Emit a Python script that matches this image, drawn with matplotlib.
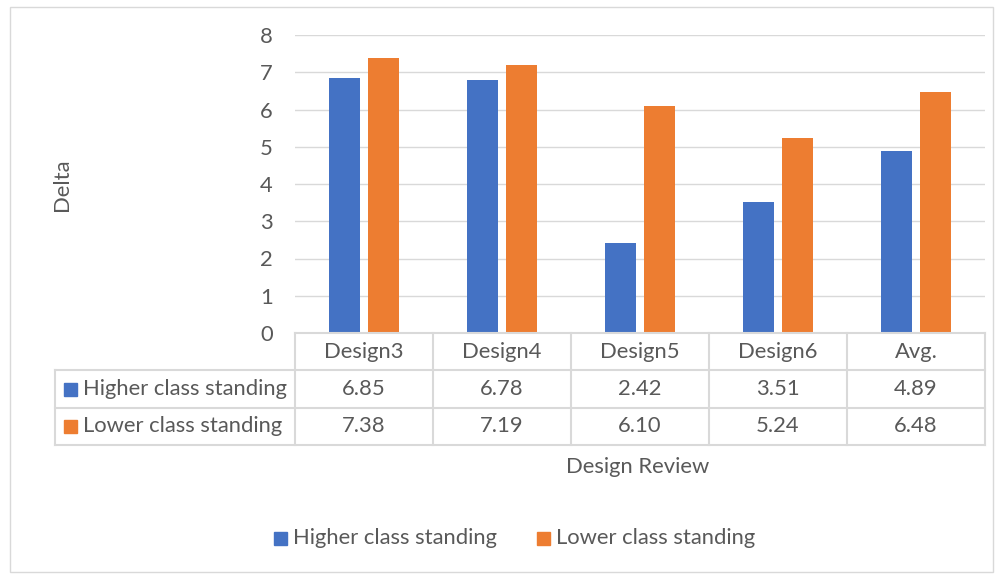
import numpy as np
import matplotlib
matplotlib.use("Agg")
import matplotlib.pyplot as plt
from matplotlib.patches import Rectangle
from matplotlib.lines import Line2D

categories = ["Design3", "Design4", "Design5", "Design6", "Avg."]
higher = [6.85, 6.78, 2.42, 3.51, 4.89]
lower = [7.38, 7.19, 6.10, 5.24, 6.48]
series_names = ["Higher class standing", "Lower class standing"]

BLUE = "#4472c4"
ORANGE = "#ed7d31"
GRID = "#d9d9d9"
TXT = "#595959"
FONT = "Lato"
FS = 15.8

W, H = 1002, 575
fig = plt.figure(figsize=(W / 100, H / 100), dpi=100)
fig.patch.set_facecolor("white")


def fx(px):
    return px / W


def fy(py):
    return 1 - py / H


# outer chart border
fig.add_artist(Rectangle((fx(10), fy(572)), fx(983), 565 / H, transform=fig.transFigure,
                         fill=False, ec=GRID, lw=1))

x0, x1, ytop, ybot = 295, 985, 35, 333
ax = fig.add_axes([fx(x0), fy(ybot), fx(x1 - x0), (ybot - ytop) / H])
x = np.arange(len(categories))
bw = 0.22
ax.bar(x - 0.141, higher, bw, color=BLUE, zorder=3)
ax.bar(x + 0.141, lower, bw, color=ORANGE, zorder=3)
ax.set_xlim(-0.5, len(categories) - 0.5)
ax.set_ylim(0, 8)
ax.set_yticks(range(0, 9))
ax.yaxis.grid(True, color=GRID, lw=1)
ax.set_axisbelow(True)
for s in ax.spines.values():
    s.set_visible(False)
ax.set_xticks([])
ax.tick_params(axis="y", length=0, pad=16, labelsize=FS, labelcolor=TXT)
for lab in ax.get_yticklabels():
    lab.set_fontfamily(FONT)

# data table below the plot
rows = [333, 370, 408, 445]
col_edges = np.linspace(x0, x1, len(categories) + 1)
left = 55
line_kw = dict(color=GRID, lw=1.5, transform=fig.transFigure)
fig.add_artist(Line2D([fx(x0), fx(x1)], [fy(rows[0])] * 2, **line_kw))
for r in rows[1:]:
    fig.add_artist(Line2D([fx(left), fx(x1)], [fy(r)] * 2, **line_kw))
for c in col_edges:
    fig.add_artist(Line2D([fx(c)] * 2, [fy(rows[0]), fy(rows[-1])], **line_kw))
fig.add_artist(Line2D([fx(left)] * 2, [fy(rows[1]), fy(rows[-1])], **line_kw))

tkw = dict(ha="center", va="center", fontsize=FS, color=TXT, family=FONT)
for i, cat in enumerate(categories):
    cx = (col_edges[i] + col_edges[i + 1]) / 2
    fig.text(fx(cx), fy((rows[0] + rows[1]) / 2), cat, **tkw)
    fig.text(fx(cx), fy((rows[1] + rows[2]) / 2), f"{higher[i]:.2f}", **tkw)
    fig.text(fx(cx), fy((rows[2] + rows[3]) / 2), f"{lower[i]:.2f}", **tkw)

for k, (name, col) in enumerate(zip(series_names, [BLUE, ORANGE])):
    cy = (rows[k + 1] + rows[k + 2]) / 2
    fig.add_artist(Rectangle((fx(64), fy(cy + 6.5)), fx(13), 13 / H,
                             transform=fig.transFigure, color=col))
    fig.text(fx(83), fy(cy), name, ha="left", va="center", fontsize=FS,
             color=TXT, family=FONT)

fig.text(fx(638), fy(467), "Design Review", ha="center", va="center",
         fontsize=FS, color=TXT, family=FONT)
fig.text(fx(62), fy(185), "Delta", ha="center", va="center", rotation=90,
         fontsize=FS, color=TXT, family=FONT)

# legend
for lx, name, col in [(274, series_names[0], BLUE), (537, series_names[1], ORANGE)]:
    fig.add_artist(Rectangle((fx(lx), fy(538 + 6.5)), fx(13), 13 / H,
                             transform=fig.transFigure, color=col))
    fig.text(fx(lx + 19), fy(538), name, ha="left", va="center", fontsize=FS,
             color=TXT, family=FONT)

fig.savefig("out.png", dpi=100)
